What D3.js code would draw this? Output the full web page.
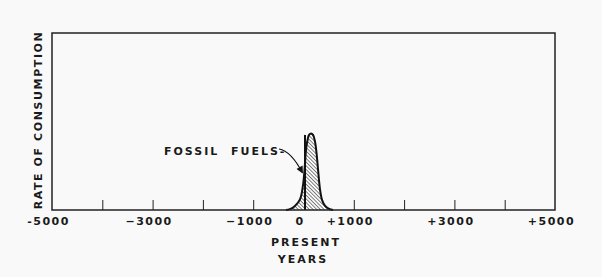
<!DOCTYPE html>
<html>
<head>
<meta charset="utf-8">
<script src="https://cdn.jsdelivr.net/npm/d3@7"></script>
<style>
  html, body { margin: 0; padding: 0; background: #f9f9f9; }
  text { font-family: 'DejaVu Sans', sans-serif; font-weight: bold; fill: #1a1a1a; }
</style>
</head>
<body>
<div id="container"></div>
<script>
'use strict';

// years relative to the present, rate in arbitrary units (frame top = 100)
const years = [-350, -270, -170, -70, -10, 20, 50, 80, 110, 150, 190, 230, 260, 290, 330, 370, 430, 510, 590];
const rates = [0, 0.5, 2.3, 6, 14, 22.6, 34, 39.5, 42.4, 43.2, 42.4, 38.4, 32, 22.6, 11.3, 5.6, 2.3, 0.6, 0];
const presentYear = 30;
const presentRate = 42.4;

const tickYears = [-4000, -3000, -2000, -1000, 1000, 2000, 3000, 4000];
const labelYears = [-5000, -3000, -1000, 0, 1000, 3000, 5000];
const labelTexts = ['-5000', '\u22123000', '\u22121000', '0', '+1000', '+3000', '+5000'];

const w = 602;
const h = 277;
const frameLeft = 52, frameRight = 555, frameTop = 33, frameBottom = 210;

const svg = d3.select('#container')
                .append('svg')
                .attr('width', w)
                .attr('height', h);

svg.append('rect')
    .attr('width', w)
    .attr('height', h)
    .attr('fill', '#f9f9f9');

const xScale = d3.scaleLinear().domain([-5000, 5000]).range([frameLeft, frameRight]);
const yScale = d3.scaleLinear().domain([0, 100]).range([frameBottom, frameTop]);

const defs = svg.append('defs');
defs.append('pattern')
    .attr('id', 'hatch')
    .attr('patternUnits', 'userSpaceOnUse')
    .attr('width', 2.6)
    .attr('height', 3)
    .attr('patternTransform', 'rotate(-45)')
    .append('line')
    .attr('x1', 0).attr('y1', 0)
    .attr('x2', 0).attr('y2', 3)
    .attr('stroke', '#222')
    .attr('stroke-width', 1.1);

defs.append('marker')
    .attr('id', 'arrow')
    .attr('viewBox', '0 0 10 10')
    .attr('refX', 9)
    .attr('refY', 5)
    .attr('markerWidth', 11)
    .attr('markerHeight', 7)
    .attr('markerUnits', 'userSpaceOnUse')
    .attr('orient', 'auto')
    .append('path')
    .attr('d', 'M0,0 L10,5 L0,10 z')
    .attr('fill', '#111');

const data = years.map((y, i) => ({ year: y, rate: rates[i] }));

const area = d3.area()
                .x((d) => xScale(d.year))
                .y0(yScale(0))
                .y1((d) => yScale(d.rate))
                .curve(d3.curveCatmullRom);
const line = d3.line()
                .x((d) => xScale(d.year))
                .y((d) => yScale(d.rate))
                .curve(d3.curveCatmullRom);

svg.append('path')
    .datum(data)
    .attr('d', area)
    .attr('fill', 'url(#hatch)');

svg.append('path')
    .datum(data)
    .attr('d', line)
    .attr('fill', 'none')
    .attr('stroke', '#111')
    .attr('stroke-width', 2);

// present marker
svg.append('line')
    .attr('x1', xScale(presentYear)).attr('x2', xScale(presentYear))
    .attr('y1', yScale(0)).attr('y2', yScale(presentRate))
    .attr('stroke', '#111')
    .attr('stroke-width', 2);

// frame
svg.append('rect')
    .attr('x', frameLeft)
    .attr('y', frameTop)
    .attr('width', frameRight - frameLeft)
    .attr('height', frameBottom - frameTop)
    .attr('fill', 'none')
    .attr('stroke', '#222')
    .attr('stroke-width', 1.5);

// inward ticks
const tickAxis = d3.axisBottom(xScale)
                    .tickValues(tickYears)
                    .tickSizeInner(-10)
                    .tickSizeOuter(0)
                    .tickFormat('');
const gTicks = svg.append('g')
    .attr('transform', 'translate(0, ' + frameBottom + ')')
    .call(tickAxis);
gTicks.select('.domain').remove();
gTicks.selectAll('line').attr('stroke', '#222').attr('stroke-width', 1);

// tick labels
const labelAxis = d3.axisBottom(xScale)
                    .tickValues(labelYears)
                    .tickSize(0)
                    .tickPadding(7)
                    .tickFormat((d, i) => labelTexts[i]);
const gLabels = svg.append('g')
    .attr('transform', 'translate(0, ' + frameBottom + ')')
    .call(labelAxis);
gLabels.select('.domain').remove();
gLabels.selectAll('text')
    .attr('dx', -4)
    .style('font-family', "'DejaVu Sans', sans-serif")
    .style('font-weight', 'bold')
    .style('font-size', '11px')
    .style('letter-spacing', '1.5px')
    .attr('fill', '#1a1a1a');

svg.append('text')
    .attr('x', 306)
    .attr('y', 246)
    .attr('text-anchor', 'middle')
    .style('font-size', '11px')
    .style('letter-spacing', '2px')
    .text('PRESENT');

svg.append('text')
    .attr('x', 303)
    .attr('y', 263)
    .attr('text-anchor', 'middle')
    .style('font-size', '11px')
    .style('letter-spacing', '2px')
    .text('YEARS');

svg.append('text')
    .attr('transform', 'translate(42, 120) rotate(-90)')
    .attr('text-anchor', 'middle')
    .style('font-size', '11px')
    .style('letter-spacing', '1.6px')
    .text('RATE OF CONSUMPTION');

svg.append('text')
    .attr('x', 164)
    .attr('y', 155)
    .style('font-size', '11px')
    .style('letter-spacing', '2px')
    .attr('xml:space', 'preserve')
    .text('FOSSIL  FUELS-');

// leader arrow to the curve
const tipX = xScale(-20), tipY = yScale(21);
svg.append('path')
    .attr('d', 'M' + 279 + ',' + 149 + ' Q' + 291 + ',' + 151 + ' ' + tipX + ',' + tipY)
    .attr('fill', 'none')
    .attr('stroke', '#111')
    .attr('stroke-width', 1.2)
    .attr('marker-end', 'url(#arrow)');
</script>
</body>
</html>
